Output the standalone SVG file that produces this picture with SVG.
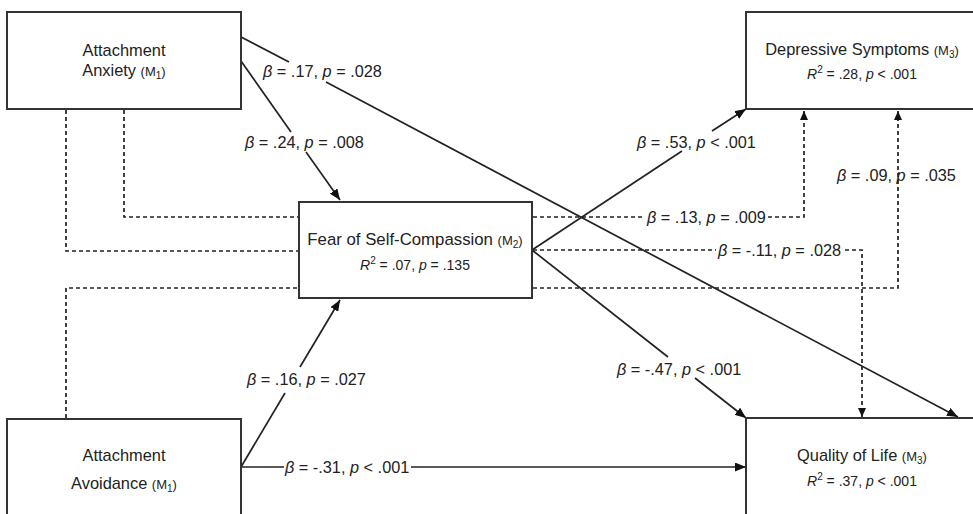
<svg xmlns="http://www.w3.org/2000/svg" width="973" height="514" viewBox="0 0 973 514">
<style>
  .box{fill:#fff;stroke:#333;stroke-width:2}
  .t{font-family:"Liberation Sans",Arial,sans-serif;fill:#222;text-anchor:middle}
  .n{font-size:16.4px}
  .r{font-size:14px}
  .lab{font-family:"Liberation Sans",Arial,sans-serif;fill:#222;font-size:16.3px}
  .sm{font-size:13px}
  .sub{font-size:10px}
  .i{font-style:italic}
  .s{fill:none;stroke:#222;stroke-width:1.7}
  .d{fill:none;stroke:#222;stroke-width:1.7;stroke-dasharray:4 3}
</style>
<defs>
  <marker id="ah" viewBox="0 0 11 9" refX="11" refY="4.5" markerWidth="11" markerHeight="9" markerUnits="userSpaceOnUse" orient="auto">
    <path d="M0,0 L11,4.5 L0,9 z" fill="#111"/>
  </marker>
  <marker id="ahs" viewBox="0 0 9 8" refX="9" refY="4" markerWidth="9" markerHeight="8" markerUnits="userSpaceOnUse" orient="auto">
    <path d="M0,0 L9,4 L0,8 z" fill="#111"/>
  </marker>
</defs>
<rect width="973" height="514" fill="#fff"/>

<g id="connectors">
  <!-- dashed -->
  <polyline class="d" points="66,110 66,251 299,251"/>
  <polyline class="d" points="124,110 124,217 299,217"/>
  <polyline class="d" points="66,418 66,288 299,288"/>
  <line class="d" x1="533" y1="217" x2="645" y2="217"/>
  <polyline class="d" points="768,217 804,217 804,111" marker-end="url(#ahs)"/>
  <line class="d" x1="533" y1="250" x2="716" y2="250"/>
  <polyline class="d" points="845,250 862,250 862,417" marker-end="url(#ahs)"/>
  <polyline class="d" points="533,288 898,288 898,111" marker-end="url(#ahs)"/>
  <!-- solid -->
  <line class="s" x1="241" y1="37" x2="289" y2="62"/>
  <line class="s" x1="326" y1="82" x2="958" y2="417" marker-end="url(#ah)"/>
  <line class="s" x1="241" y1="61" x2="291" y2="132"/>
  <line class="s" x1="306" y1="152" x2="340" y2="200" marker-end="url(#ah)"/>
  <line class="s" x1="532" y1="250" x2="682" y2="151"/>
  <line class="s" x1="712" y1="131" x2="746" y2="109" marker-end="url(#ah)"/>
  <line class="s" x1="532" y1="250" x2="668" y2="357"/>
  <line class="s" x1="695" y1="378" x2="746" y2="418" marker-end="url(#ah)"/>
  <line class="s" x1="241" y1="467" x2="285" y2="393"/>
  <line class="s" x1="300" y1="367" x2="340" y2="300" marker-end="url(#ah)"/>
  <line class="s" x1="241" y1="467" x2="284" y2="467"/>
  <line class="s" x1="411" y1="467" x2="746" y2="467" marker-end="url(#ah)"/>
  <!-- labels -->
  <text class="lab" x="263" y="77"><tspan class="i">β</tspan> = .17, <tspan class="i">p</tspan> = .028</text>
  <text class="lab" x="245" y="148"><tspan class="i">β</tspan> = .24, <tspan class="i">p</tspan> = .008</text>
  <text class="lab" x="637" y="148"><tspan class="i">β</tspan> = .53, <tspan class="i">p</tspan> &lt; .001</text>
  <text class="lab" x="647" y="223"><tspan class="i">β</tspan> = .13, <tspan class="i">p</tspan> = .009</text>
  <text class="lab" x="718" y="256"><tspan class="i">β</tspan> = -.11, <tspan class="i">p</tspan> = .028</text>
  <text class="lab" x="837" y="181"><tspan class="i">β</tspan> = .09, <tspan class="i">p</tspan> = .035</text>
  <text class="lab" x="617" y="375"><tspan class="i">β</tspan> = -.47, <tspan class="i">p</tspan> &lt; .001</text>
  <text class="lab" x="247" y="385"><tspan class="i">β</tspan> = .16, <tspan class="i">p</tspan> = .027</text>
  <text class="lab" x="285" y="473"><tspan class="i">β</tspan> = -.31, <tspan class="i">p</tspan> &lt; .001</text>
</g>

<g id="anxiety">
  <rect class="box" x="7" y="12" width="234" height="97"/>
  <text class="t n" x="124" y="56">Attachment</text>
  <text class="t n" x="124" y="76">Anxiety <tspan class="sm">(M</tspan><tspan class="sub" dy="3">1</tspan><tspan class="sm" dy="-3">)</tspan></text>
</g>

<g id="avoidance">
  <rect class="box" x="7" y="419" width="234" height="100"/>
  <text class="t n" x="124" y="461">Attachment</text>
  <text class="t n" x="124" y="489">Avoidance <tspan class="sm">(M</tspan><tspan class="sub" dy="3">1</tspan><tspan class="sm" dy="-3">)</tspan></text>
</g>

<g id="fear">
  <rect class="box" x="299" y="202" width="233" height="96"/>
  <text class="t n" x="415" y="245" style="font-size:16.8px">Fear of Self-Compassion <tspan class="sm">(M</tspan><tspan class="sub" dy="3">2</tspan><tspan class="sm" dy="-3">)</tspan></text>
  <text class="t r" x="415" y="270"><tspan class="i">R</tspan><tspan class="sub" dy="-6">2</tspan><tspan dy="6"> = .07, </tspan><tspan class="i">p</tspan> = .135</text>
</g>

<g id="depressive">
  <rect class="box" x="746" y="12" width="240" height="97"/>
  <text class="t n" x="862" y="55">Depressive Symptoms <tspan class="sm">(M</tspan><tspan class="sub" dy="3">3</tspan><tspan class="sm" dy="-3">)</tspan></text>
  <text class="t r" x="862" y="79"><tspan class="i">R</tspan><tspan class="sub" dy="-6">2</tspan><tspan dy="6"> = .28, </tspan><tspan class="i">p</tspan> &lt; .001</text>
</g>

<g id="qol">
  <rect class="box" x="746" y="418" width="240" height="100"/>
  <text class="t n" x="862" y="461">Quality of Life <tspan class="sm">(M</tspan><tspan class="sub" dy="3">3</tspan><tspan class="sm" dy="-3">)</tspan></text>
  <text class="t r" x="862" y="486"><tspan class="i">R</tspan><tspan class="sub" dy="-6">2</tspan><tspan dy="6"> = .37, </tspan><tspan class="i">p</tspan> &lt; .001</text>
</g>
</svg>
